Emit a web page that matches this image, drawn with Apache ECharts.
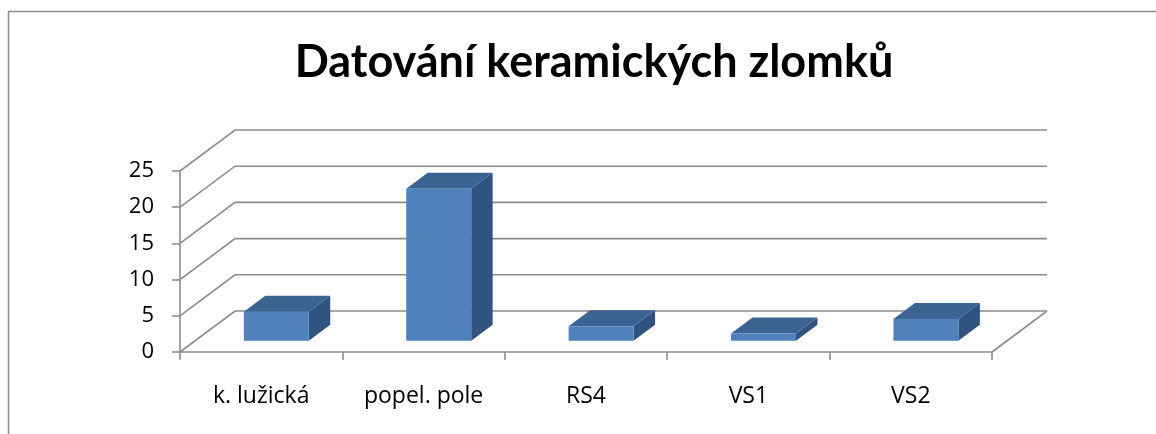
<!DOCTYPE html>
<html>
<head>
<meta charset="utf-8">
<script src="https://cdn.jsdelivr.net/npm/echarts@6/dist/echarts.min.js"></script>
<style>
  html, body { margin: 0; padding: 0; background: #fff; }
  #chart { width: 1156px; height: 434px; }
</style>
</head>
<body>
<div id="chart"></div>
<script>
// Data
const titleText = 'Datování keramických zlomků';
const categories = ['k. lužická', 'popel. pole', 'RS4', 'VS1', 'VS2'];
const counts = [4, 21, 2, 1, 3];
const yTicks = [0, 5, 10, 15, 20, 25];

// Oblique projection of the chart's depth axis
const DEPTH_DX = 55;
const DEPTH_DY = -41;
const BAR_FRONT = 0.275;   // bar front face, as a fraction of the depth
const BAR_BACK = 0.665;    // bar back face
const BAR_WIDTH = 0.4;     // bar width, as a fraction of a category band

const GRID_COLOR = '#8c8c8c';
const TITLE_FONT = 'Lato, "Open Sans", sans-serif';
const LABEL_FONT = '"Open Sans", Lato, sans-serif';

const chart = echarts.init(document.getElementById('chart'), null, { renderer: 'canvas' });

// Back wall, side wall and floor lines for each value tick
function renderFrame(params, api) {
  const v = api.value(1);
  const band = api.size([1, 0])[0];
  const pFirst = api.coord([0, v]);
  const pLast = api.coord([categories.length - 1, v]);
  const xl = pFirst[0] - band / 2;
  const xr = pLast[0] + band / 2;
  const y = pFirst[1];
  const children = [{
    type: 'polyline',
    shape: { points: [[xl, y], [xl + DEPTH_DX, y + DEPTH_DY], [xr + DEPTH_DX, y + DEPTH_DY]] },
    style: { stroke: GRID_COLOR, lineWidth: 1.6, fill: null }
  }];
  if (v === 0) {
    children.push({
      type: 'line',
      shape: { x1: xr, y1: y, x2: xr + DEPTH_DX, y2: y + DEPTH_DY },
      style: { stroke: GRID_COLOR, lineWidth: 1.6 }
    });
  }
  return { type: 'group', children: children };
}

// Bars as boxes: front face, top face and right-hand side face
function renderBar(params, api) {
  const idx = api.value(0);
  const val = api.value(1);
  const top = api.coord([idx, val]);
  const base = api.coord([idx, 0]);
  const band = api.size([1, 0])[0];
  const half = band * BAR_WIDTH / 2;
  const fx = DEPTH_DX * BAR_FRONT, fy = DEPTH_DY * BAR_FRONT;
  const bx = DEPTH_DX * BAR_BACK, by = DEPTH_DY * BAR_BACK;
  const x0 = top[0] - half + fx, x1 = top[0] + half + fx;
  const yt = top[1] + fy, yb = base[1] + fy;
  const ddx = bx - fx, ddy = by - fy;
  return {
    type: 'group',
    children: [
      {
        type: 'polygon',
        shape: { points: [[x1, yt], [x1 + ddx, yt + ddy], [x1 + ddx, yb + ddy], [x1, yb]] },
        style: { fill: '#30547f' }
      },
      {
        type: 'polygon',
        shape: { points: [[x0, yt], [x1, yt], [x1 + ddx, yt + ddy], [x0 + ddx, yt + ddy]] },
        style: { fill: '#3b6493' }
      },
      {
        type: 'rect',
        shape: { x: x0, y: yt, width: x1 - x0, height: yb - yt },
        style: { fill: '#4f81bd' }
      }
    ]
  };
}

const option = {
  backgroundColor: '#ffffff',
  animation: false,
  title: {
    text: titleText,
    left: 589,
    top: 35,
    textAlign: 'center',
    textStyle: { fontFamily: TITLE_FONT, fontWeight: 'bold', fontSize: 45, color: '#000' }
  },
  graphic: [{
    type: 'rect',
    shape: { x: 8.5, y: 11.5, width: 1200, height: 500 },
    style: { fill: null, stroke: '#8a8a8a', lineWidth: 1.5 },
    silent: true
  }],
  grid: { left: 180, right: 164, top: 171, bottom: 82, containLabel: false },
  xAxis: {
    type: 'category',
    data: categories,
    axisLine: { show: true, lineStyle: { color: GRID_COLOR, width: 1.6 } },
    axisTick: { show: true, length: 8, lineStyle: { color: GRID_COLOR, width: 1.6 } },
    axisLabel: { margin: 33, fontFamily: LABEL_FONT, fontSize: 23, color: '#000' },
    splitLine: { show: false }
  },
  yAxis: {
    type: 'value',
    min: 0,
    max: 25,
    interval: 5,
    axisLine: { show: true, lineStyle: { color: GRID_COLOR, width: 1.6 } },
    axisTick: { show: true, length: 8, lineStyle: { color: GRID_COLOR, width: 1.6 } },
    axisLabel: { margin: 26, fontFamily: LABEL_FONT, fontSize: 22, color: '#000' },
    splitLine: { show: false }
  },
  series: [
    {
      type: 'custom',
      renderItem: renderFrame,
      data: yTicks.map(v => [0, v]),
      encode: { x: 0, y: 1 },
      clip: false,
      silent: true,
      z: 1
    },
    {
      type: 'custom',
      renderItem: renderBar,
      data: counts.map((c, i) => [i, c]),
      encode: { x: 0, y: 1 },
      clip: false,
      z: 3
    }
  ]
};

chart.setOption(option);
</script>
</body>
</html>
